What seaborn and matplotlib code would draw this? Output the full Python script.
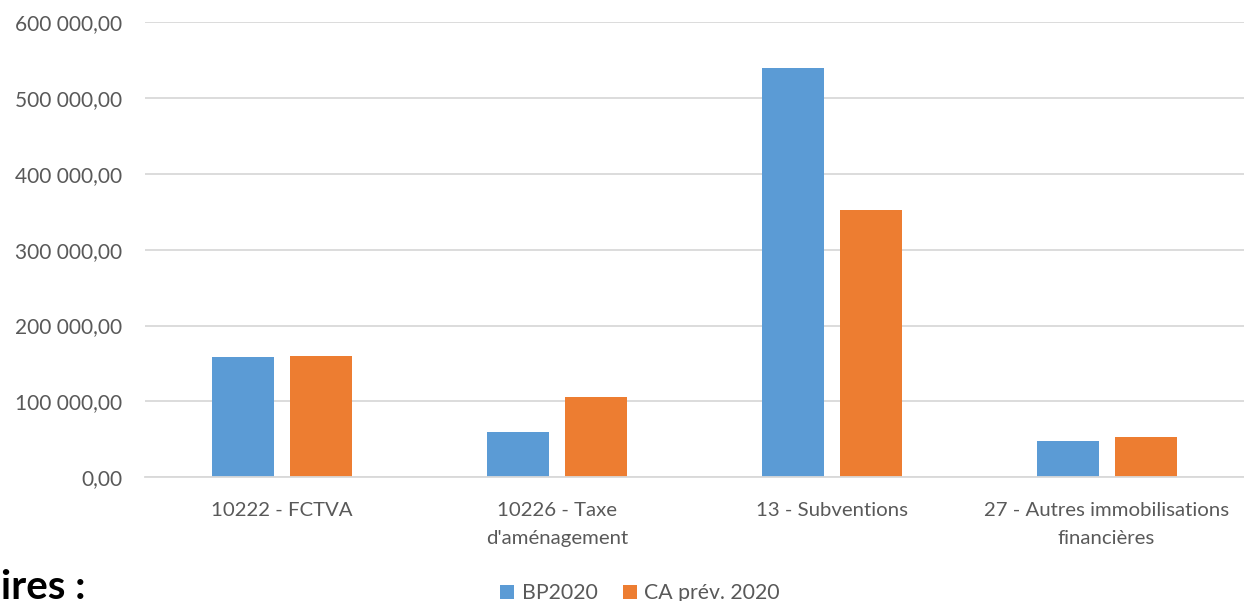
import matplotlib
matplotlib.use("Agg")
import matplotlib.pyplot as plt
import matplotlib.ticker as mticker
from matplotlib.patches import Patch
import pandas as pd
import seaborn as sns

categories = [
    "10222 - FCTVA",
    "10226 - Taxe\nd'aménagement",
    "13 - Subventions",
    "27 - Autres immobilisations\nfinancières",
]
bp2020 = [158000, 59000, 539500, 47100]
ca_prev_2020 = [160100, 105600, 352500, 52400]
series_names = ["BP2020", "CA prév. 2020"]
colors = ["#5B9BD5", "#ED7D31"]

df = pd.DataFrame({
    "categorie": categories * 2,
    "serie": [series_names[0]] * 4 + [series_names[1]] * 4,
    "montant": bp2020 + ca_prev_2020,
})

sns.set_theme(style="white")
plt.rcParams["font.family"] = ["Lato", "DejaVu Sans"]
text_color = "#595959"

fig = plt.figure(figsize=(12.44, 6.01), dpi=100)
ax = fig.add_axes([0.1162, 0.2063, 0.8838, 0.7563])

sns.barplot(
    data=df, x="categorie", y="montant", hue="serie",
    palette=colors, order=categories, hue_order=series_names,
    width=0.567, gap=0.205, saturation=1, linewidth=0,
    legend=False, ax=ax,
)

ax.set_xlim(-0.5, 3.5)
ax.set_ylim(0, 600000)
ax.yaxis.set_major_locator(mticker.MultipleLocator(100000))


def fr_format(v, pos):
    s = f"{v:,.2f}"
    return s.replace(",", " ").replace(".", ",")


ax.yaxis.set_major_formatter(mticker.FuncFormatter(fr_format))
ax.grid(axis="y", color="#D9D9D9", linewidth=1.3)
ax.set_axisbelow(True)
for side in ["top", "right", "left"]:
    ax.spines[side].set_visible(False)
ax.spines["bottom"].set_color("#D9D9D9")
ax.spines["bottom"].set_linewidth(1.3)

ax.set_xlabel("")
ax.set_ylabel("")
ax.tick_params(axis="x", length=0, labelsize=14.7, colors=text_color, pad=18)
ax.tick_params(axis="y", length=0, labelsize=15, colors=text_color, pad=16)
for lbl in ax.get_xticklabels():
    lbl.set_linespacing(1.8)

handles = [Patch(facecolor=c, edgecolor="none") for c in colors]
fig.legend(
    handles, series_names, loc="center", bbox_to_anchor=(0.5145, 0.013),
    ncol=2, frameon=False, fontsize=15.3, labelcolor=text_color,
    handlelength=0.65, handleheight=0.65, handletextpad=0.35, columnspacing=1.2,
    borderpad=0.0,
)

fig.text(0.001, 0.004, "ires :", fontsize=29, fontweight="bold",
         color="black", ha="left", va="baseline")

fig.savefig("out.png", dpi=100, facecolor="white")
